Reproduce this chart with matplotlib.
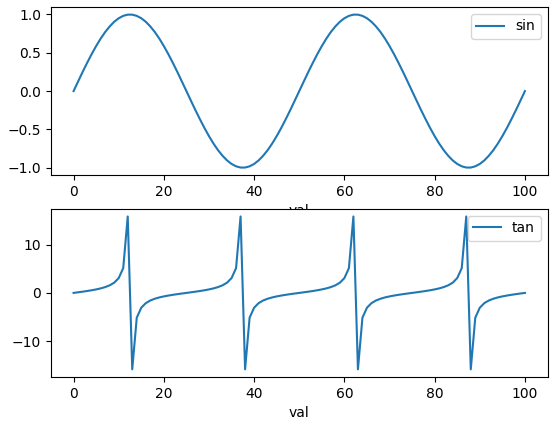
import matplotlib
matplotlib.use("Agg")
import matplotlib.pyplot as plt

x = list(range(101))

sin_vals = [0.0, 0.125, 0.249, 0.368, 0.482, 0.588, 0.685, 0.771, 0.844, 0.905, 0.951, 0.982, 0.998,
            0.998, 0.982, 0.951, 0.905, 0.844, 0.771, 0.685, 0.588, 0.482, 0.368, 0.249, 0.125, 0.0,
            -0.125, -0.249, -0.368, -0.482, -0.588, -0.685, -0.771, -0.844, -0.905, -0.951, -0.982, -0.998,
            -0.998, -0.982, -0.951, -0.905, -0.844, -0.771, -0.685, -0.588, -0.482, -0.368, -0.249, -0.125, 0.0,
            0.125, 0.249, 0.368, 0.482, 0.588, 0.685, 0.771, 0.844, 0.905, 0.951, 0.982, 0.998,
            0.998, 0.982, 0.951, 0.905, 0.844, 0.771, 0.685, 0.588, 0.482, 0.368, 0.249, 0.125, 0.0,
            -0.125, -0.249, -0.368, -0.482, -0.588, -0.685, -0.771, -0.844, -0.905, -0.951, -0.982, -0.998,
            -0.998, -0.982, -0.951, -0.905, -0.844, -0.771, -0.685, -0.588, -0.482, -0.368, -0.249, -0.125, 0.0]

tan_vals = [0.0, 0.126, 0.257, 0.396, 0.550, 0.727, 0.939, 1.209, 1.576, 2.125, 3.078, 5.145, 15.89,
            -15.89, -5.145, -3.078, -2.125, -1.576, -1.209, -0.939, -0.727, -0.550, -0.396, -0.257, -0.126, 0.0,
            0.126, 0.257, 0.396, 0.550, 0.727, 0.939, 1.209, 1.576, 2.125, 3.078, 5.145, 15.89,
            -15.89, -5.145, -3.078, -2.125, -1.576, -1.209, -0.939, -0.727, -0.550, -0.396, -0.257, -0.126, 0.0,
            0.126, 0.257, 0.396, 0.550, 0.727, 0.939, 1.209, 1.576, 2.125, 3.078, 5.145, 15.89,
            -15.89, -5.145, -3.078, -2.125, -1.576, -1.209, -0.939, -0.727, -0.550, -0.396, -0.257, -0.126, 0.0,
            0.126, 0.257, 0.396, 0.550, 0.727, 0.939, 1.209, 1.576, 2.125, 3.078, 5.145, 15.89,
            -15.89, -5.145, -3.078, -2.125, -1.576, -1.209, -0.939, -0.727, -0.550, -0.396, -0.257, -0.126, 0.0]

fig, (ax1, ax2) = plt.subplots(2, 1, figsize=(5.57, 4.30), dpi=100)
fig.subplots_adjust(left=51/557, right=547.5/557, top=1-7/430, bottom=1-377/430, hspace=0.2)

ax1.plot(x, sin_vals, label="sin")
ax1.set_xlabel("val")
ax1.legend(loc="upper right")

ax2.plot(x, tan_vals, label="tan")
ax2.set_xlabel("val")
ax2.legend(loc="upper right")

fig.savefig("out.png")
